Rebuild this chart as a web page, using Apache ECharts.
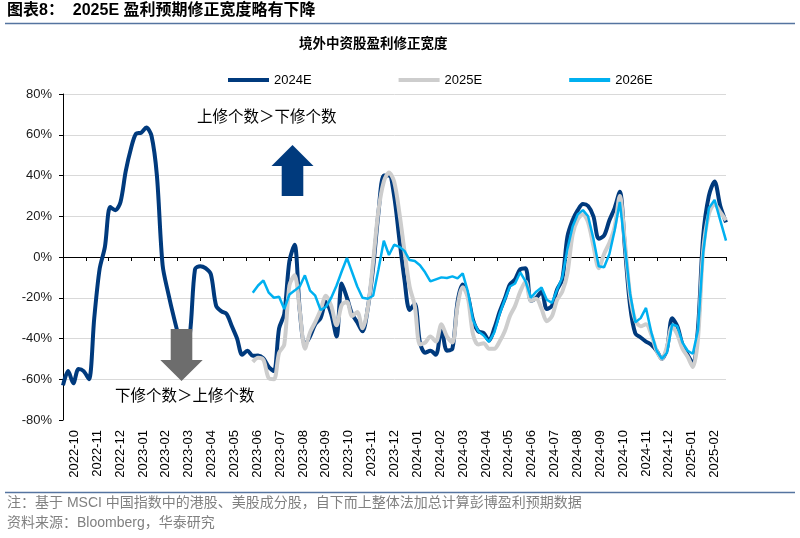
<!DOCTYPE html>
<html>
<head>
<meta charset="utf-8">
<script src="https://cdn.jsdelivr.net/npm/echarts@6/dist/echarts.min.js"></script>
<style>
  html, body { margin: 0; padding: 0; background: #fff; }
  #chart { width: 800px; height: 538px; }
</style>
</head>
<body>
<div id="chart"></div>
<script>
// Month categories shown on the axis
const months = ['2022-10','2022-11','2022-12','2023-01','2023-02','2023-03','2023-04','2023-05','2023-06',
  '2023-07','2023-08','2023-09','2023-10','2023-11','2023-12','2024-01','2024-02','2024-03','2024-04',
  '2024-05','2024-06','2024-07','2024-08','2024-09','2024-10','2024-11','2024-12','2025-01','2025-02'];

// Weekly observations start on this date
const firstWeek = '2022-10-01';
// 2025E / 2026E series begin at this week index
const newSeriesStartWeek = 36;

// 2024E (%), weekly from firstWeek
const s2024 = [
  -63, -56, -62, -55, -56, -60, -30, -6, 5, 24.5,
  23, 27, 42, 53, 60.5, 61, 63.5, 59.5, 40, -4,
  -18, -30, -40, -45, -38, -6, -4.5, -5.5, -8.5, -24,
  -26.7, -28, -34, -40, -48, -46, -48.5, -48.3, -49.7, -54,
  -56, -35, -28, -2, 6, -26, -43, -39, -33, -30,
  -22, -28, -39, -13, -20, -28, -32, -36.5, -25, -5,
  22, 40, 40, 30, 9, -11, -26, -23, -42, -47,
  -46, -48, -35, -46, -45, -22, -13.5, -19, -31, -36.5,
  -37.3, -41, -35, -27, -20.5, -13.5, -11, -6, -5.5, -21.5,
  -20, -17, -25.5, -24, -16, -11, 10, 18, 23, 26,
  25, 20, 9, 10.5, 18, 24, 32, 4, -24, -37.5,
  -39.5, -41.5, -43, -46, -50, -45, -30, -34, -43, -48,
  -52, -35, 10, 30, 37, 25, 17
];
// 2025E (%), weekly from newSeriesStartWeek
const s2025 = [
  -51.5, -49.5, -50.5, -59.5, -60, -47, -43, -14, -9, -26,
  -45, -37, -32, -26, -19, -24, -33.5, -23.5, -22, -29,
  -27, -35, -25, -2, 23, 37, 41.5, 37, 22, 3,
  -14.5, -24, -43, -42, -39, -41.5, -33, -39, -42, -24,
  -14.8, -20, -38, -43, -42.3, -45, -45, -41.5, -36.5, -29,
  -24, -17, -12, -21.5, -20.5, -25.5, -31.5, -29, -21, -17,
  -8, 11, 18.5, 21, 17, 5.5, -5.5, 1.5, 7, 14.8,
  30, 7, -19, -31, -34, -33, -38, -46, -50, -44,
  -34, -38, -45, -49, -54, -40, 3, 21, 26, 22, 18
];
// 2026E (%), weekly from newSeriesStartWeek
const s2026 = [
  -17.5, -14, -11.5, -17.5, -20, -19.5, -25.5, -18.4, -16.5, -14.5,
  -9, -16.5, -19, -26, -24.5, -20, -14, -7, -0.5, -7.5,
  -14.5, -20, -20.5, -19, -6, 8, 1, 6, 5, 3,
  -1.5, -2, -4, -7.5, -12, -11, -10, -10.3, -9.5, -10.5,
  -8, -17, -31, -36.5, -38.5, -41.7, -37, -28, -21, -14.5,
  -13, -7.5, -12, -20, -17, -15, -21, -22.5, -16, -10,
  4, 15, 21, 23, 20, 9, -4.5, -5, 1.5, 13,
  27, 5, -18, -32, -30, -25, -37, -46, -50, -47,
  -33, -34, -42, -46, -47.5, -36, 2, 24, 28, 18, 8
];

const yTicks = { min: -80, max: 80, step: 20 };

// position of a date measured in months from the first month shown
function monthPos(d) {
  const y = d.getUTCFullYear(), mo = d.getUTCMonth(), day = d.getUTCDate();
  const dim = new Date(Date.UTC(y, mo + 1, 0)).getUTCDate();
  return (y - 2022) * 12 + mo - 9 + (day - 1) / dim;
}
const start = new Date(firstWeek + 'T00:00:00Z').getTime();
function weekPos(k) { return monthPos(new Date(start + k * 7 * 86400000)); }
function pairs(values, offset) { return values.map((v, i) => [weekPos(i + offset), v]); }

const NAVY = '#003a7d', GRAY = '#cdcdcd', SKY = '#00b0f0';
const LATIN = "'Liberation Sans', 'Noto Sans CJK SC', sans-serif";
const CJK = "'Noto Sans CJK SC', sans-serif";

const chart = echarts.init(document.getElementById('chart'), null, { renderer: 'canvas' });
const gridCols = ['rgba(0,0,0,0)'];
for (let i = 0; i < 8; i++) gridCols.push('#d9d9d9');

chart.setOption({
  animation: false,
  backgroundColor: '#fff',
  grid: { left: 63, right: 74, top: 94, bottom: 118, containLabel: false },
  legend: {
    data: ['2024E', '2025E', '2026E'],
    left: 223, top: 68, itemWidth: 41, itemHeight: 4, itemGap: 87, icon: 'rect',
    textStyle: { fontFamily: LATIN, fontSize: 13, color: '#000', lineHeight: 14 }
  },
  xAxis: [
    {
      type: 'value', min: 0, max: months.length, interval: 1, position: 'bottom',
      axisLine: { show: true, onZero: true, lineStyle: { color: '#000', width: 1 } },
      axisTick: { show: true, length: 4, lineStyle: { color: '#000' } },
      axisLabel: { show: false }, splitLine: { show: false }
    },
    {
      type: 'category', data: months, position: 'bottom', boundaryGap: true,
      axisLine: { show: false, onZero: false }, axisTick: { show: false },
      axisLabel: { interval: 0, rotate: 90, margin: 10, fontFamily: LATIN, fontSize: 13, color: '#000' },
      splitLine: { show: false }
    }
  ],
  yAxis: {
    type: 'value', min: yTicks.min, max: yTicks.max, interval: yTicks.step,
    axisLine: { show: true, onZero: false, lineStyle: { color: '#000', width: 1 } },
    axisTick: { show: true, length: 4, lineStyle: { color: '#000' } },
    axisLabel: { formatter: '{value}%', margin: 11, fontFamily: LATIN, fontSize: 13, color: '#1a1a1a' },
    splitLine: { show: true, lineStyle: { color: gridCols, width: 1 } }
  },
  series: [
    { name: '2024E', type: 'line', xAxisIndex: 0, data: pairs(s2024, 0), showSymbol: false, smooth: 0.3,
      lineStyle: { color: NAVY, width: 4 }, itemStyle: { color: NAVY } },
    { name: '2025E', type: 'line', xAxisIndex: 0, data: pairs(s2025, newSeriesStartWeek), showSymbol: false, smooth: 0.3,
      lineStyle: { color: GRAY, width: 4 }, itemStyle: { color: GRAY } },
    { name: '2026E', type: 'line', xAxisIndex: 0, data: pairs(s2026, newSeriesStartWeek), showSymbol: false, smooth: false,
      lineStyle: { color: SKY, width: 2.5 }, itemStyle: { color: SKY } }
  ],
  graphic: [
    { type: 'text', left: 7, top: 3, style: { text: '图表8：  2025E 盈利预期修正宽度略有下降', fontFamily: LATIN, fontSize: 16, fontWeight: 'bold', fill: '#000' } },
    { type: 'line', shape: { x1: 5, y1: 23.5, x2: 795, y2: 23.5 }, style: { stroke: '#5574a0', lineWidth: 1.5 } },
    { type: 'text', left: 299, top: 36, style: { text: '境外中资股盈利修正宽度', fontFamily: CJK, fontSize: 13.5, fontWeight: 'bold', fill: '#000' } },
    { type: 'text', left: 197, top: 108, style: { text: '上修个数＞下修个数', fontFamily: CJK, fontSize: 15.5, fill: '#000' }, z: 100 },
    { type: 'text', left: 115, top: 387, style: { text: '下修个数＞上修个数', fontFamily: CJK, fontSize: 15.5, fill: '#000' }, z: 100 },
    { type: 'polygon', shape: { points: [[292.5,145],[313.5,166],[303.3,166],[303.3,196],[281.7,196],[281.7,166],[271.5,166]] },
      style: { fill: NAVY }, z: 100 },
    { type: 'polygon', shape: { points: [[170.7,329],[192.3,329],[192.3,360],[202.7,360],[181.5,381],[160.3,360],[170.7,360]] },
      style: { fill: '#6d6d6d' }, z: 100 },
    { type: 'line', shape: { x1: 5, y1: 492.5, x2: 795, y2: 492.5 }, style: { stroke: '#5574a0', lineWidth: 1.5 } },
    { type: 'text', left: 7, top: 496, style: { text: '注：基于 MSCI 中国指数中的港股、美股成分股，自下而上整体法加总计算彭博盈利预期数据', fontFamily: LATIN, fontSize: 14, fill: '#808080' } },
    { type: 'text', left: 7, top: 516, style: { text: '资料来源：Bloomberg，华泰研究', fontFamily: LATIN, fontSize: 14, fill: '#808080' } }
  ]
});
</script>
</body>
</html>
